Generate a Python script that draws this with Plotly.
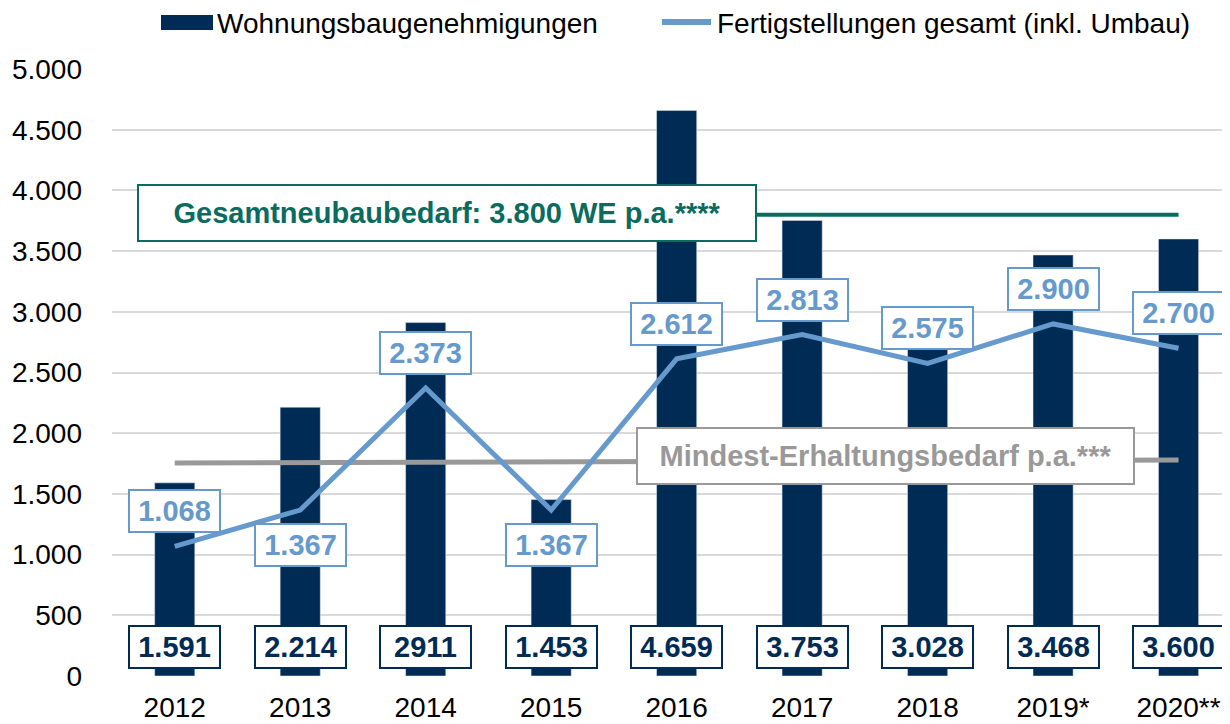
import plotly.graph_objects as go

years = ["2012", "2013", "2014", "2015", "2016", "2017", "2018", "2019*", "2020**"]
genehmigungen = [1591, 2214, 2911, 1453, 4659, 3753, 3028, 3468, 3600]
genehmigungen_labels = ["1.591", "2.214", "2911", "1.453", "4.659", "3.753", "3.028", "3.468", "3.600"]
fertigstellungen = [1068, 1367, 2373, 1367, 2612, 2813, 2575, 2900, 2700]
fertig_labels = ["1.068", "1.367", "2.373", "1.367", "2.612", "2.813", "2.575", "2.900", "2.700"]
neubaubedarf = [3800, 3800]
erhaltungsbedarf = [1755, 1780]
y_ticks = [0, 500, 1000, 1500, 2000, 2500, 3000, 3500, 4000, 4500, 5000]
series_names = ["Wohnungsbaugenehmigungen", "Fertigstellungen gesamt (inkl. Umbau)"]

NAVY = "#002B55"
LIGHT = "#6699CC"
GREEN = "#0B6B5F"
GRAY = "#999999"
FONT = "Arial, Liberation Sans, sans-serif"

# the page body adds an 8px offset; size the figure so it fills the 1230x724 window
OFF = 8
W, H = 1230 - OFF, 724 - OFF
ML, MR, MT, MB = 112 - OFF, 0, 69 - OFF, 48
PW, PH = W - ML - MR, H - MT - MB


def px_x(p):
    return (p - OFF - ML) / PW


def px_y(p):
    return (H - MB - (p - OFF)) / PH


xs = list(range(len(years)))
fig = go.Figure()
fig.add_trace(go.Bar(x=xs, y=genehmigungen, name=series_names[0],
                     marker_color=NAVY, width=0.32, showlegend=False))
fig.add_trace(go.Scatter(x=[xs[0], xs[-1]], y=neubaubedarf, mode="lines",
                         line=dict(color=GREEN, width=4), showlegend=False, hoverinfo="skip"))
fig.add_trace(go.Scatter(x=[xs[0], xs[-1]], y=erhaltungsbedarf, mode="lines",
                         line=dict(color=GRAY, width=5), showlegend=False, hoverinfo="skip"))
fig.add_trace(go.Scatter(x=xs, y=fertigstellungen, name=series_names[1],
                         mode="lines", line=dict(color=LIGHT, width=5), showlegend=False))

# label placement (style): +1 above, -1 below
label_dir = [1, -1, 1, -1, 1, 1, 1, 1, 1]

annotations = []
for i, t in enumerate(genehmigungen_labels):
    annotations.append(dict(x=xs[i], y=0, yshift=29, text=f"<b>{t}</b>", showarrow=False,
                            font=dict(family=FONT, size=29, color=NAVY), bgcolor="white",
                            bordercolor=NAVY, borderwidth=2, borderpad=2, width=85, height=36))
for i, t in enumerate(fertig_labels):
    annotations.append(dict(x=xs[i], y=fertigstellungen[i], yshift=35 * label_dir[i],
                            text=f"<b>{t}</b>", showarrow=False,
                            font=dict(family=FONT, size=29, color=LIGHT), bgcolor="white",
                            bordercolor=LIGHT, borderwidth=2, borderpad=2, width=85, height=36))
annotations.append(dict(x=2.167, y=3810, text="<b>Gesamtneubaubedarf: 3.800 WE p.a.****</b>",
                        showarrow=False, font=dict(family=FONT, size=29, color=GREEN),
                        bgcolor="white", bordercolor=GREEN, borderwidth=2, borderpad=10,
                        width=596, height=34))
annotations.append(dict(x=5.665, y=1815, text="<b>Mindest-Erhaltungsbedarf p.a.***</b>",
                        showarrow=False, font=dict(family=FONT, size=29, color=GRAY),
                        bgcolor="white", bordercolor=GRAY, borderwidth=2, borderpad=10,
                        width=475, height=34))

# custom legend (wide symbols like the original)
shapes = [
    dict(type="rect", xref="paper", yref="paper", x0=px_x(161), x1=px_x(213),
         y0=px_y(30), y1=px_y(15), fillcolor=NAVY, line=dict(width=0)),
    dict(type="line", xref="paper", yref="paper", x0=px_x(662), x1=px_x(711),
         y0=px_y(22), y1=px_y(22), line=dict(color=LIGHT, width=6)),
]
annotations.append(dict(xref="paper", yref="paper", x=px_x(216), y=px_y(24), xanchor="left",
                        yanchor="middle", text=series_names[0], showarrow=False, borderpad=0,
                        font=dict(family=FONT, size=28, color="#000000")))
annotations.append(dict(xref="paper", yref="paper", x=px_x(716), y=px_y(24), xanchor="left",
                        yanchor="middle", text=series_names[1], showarrow=False, borderpad=0,
                        font=dict(family=FONT, size=28, color="#000000")))

fig.update_layout(
    width=W, height=H,
    margin=dict(l=ML, r=MR, t=MT, b=MB),
    plot_bgcolor="white", paper_bgcolor="white",
    separators=",.",
    font=dict(family=FONT, size=28, color="#000000"),
    showlegend=False,
    annotations=annotations,
    shapes=shapes,
)
fig.update_xaxes(range=[-0.5, 8.41], tickvals=xs, ticktext=years, showgrid=False,
                 zeroline=False, showline=False, ticks="", tickfont=dict(size=28),
                 ticklabelstandoff=12, automargin=False)
fig.update_yaxes(range=[0, 5000], tickvals=y_ticks, tickformat=",d", showgrid=True,
                 gridcolor="#D9D9D9", gridwidth=2, zeroline=False, showline=False,
                 ticks="", tickfont=dict(size=28), ticklabelstandoff=29, automargin=False)

fig.write_html("out.html")
